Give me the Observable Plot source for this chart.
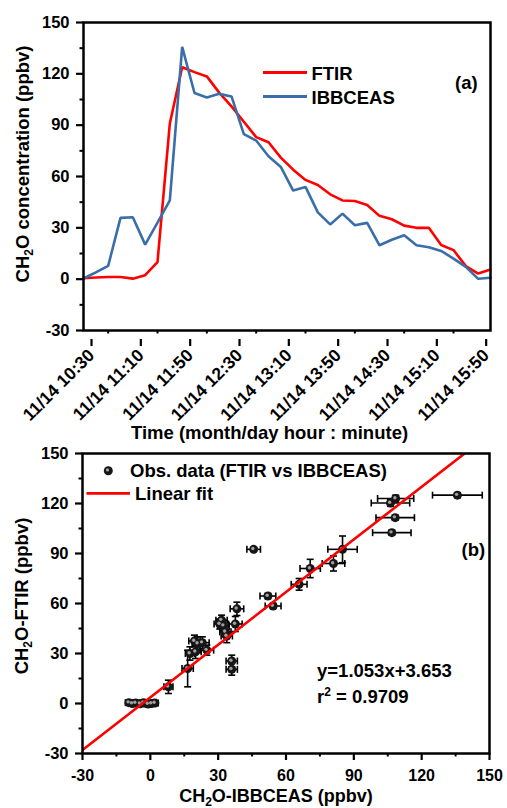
<!DOCTYPE html>
<html><head><meta charset="utf-8">
<script src="https://cdn.jsdelivr.net/npm/d3@7"></script>
<script src="https://cdn.jsdelivr.net/npm/@observablehq/plot@0.6"></script>
<style>
html,body{margin:0;padding:0;background:#fff;}
svg{display:block;}
</style></head><body>
<div id="chart"></div>
<script>
// ---------- Panel (a) data ----------
const dateLabel = "11/14";
const times = ["10:30","10:40","10:50","11:00","11:10","11:20","11:30","11:40","11:50","12:00",
  "12:10","12:20","12:30","12:40","12:50","13:00","13:10","13:20","13:30","13:40",
  "13:50","14:00","14:10","14:20","14:30","14:40","14:50","15:00","15:10","15:20",
  "15:30","15:40","15:50","16:00"];
const ftir = [0.5,1,1.3,1.3,0.3,2.3,10,91,123.8,121,118.5,109,101,92,83,80,71,64,58,55,
  49.6,46,45.7,43.4,37,35,31.3,30,30,20,17,7.6,3.3,5.6];
const ibbceas = [0.4,4,7.8,35.8,36.2,20.2,33,46,135.8,108.8,106.2,108.3,106.8,84.8,81,71.8,65.6,51.8,53.9,39,
  32,38.3,31.5,32.9,19.8,23,25.7,19.8,18.7,16.5,12,7.2,0.2,0.8];
const seriesNames = ["FTIR", "IBBCEAS"];
const seriesColors = ["#ff0000", "#3a6ea8"];
const xTickTimes = ["10:30","11:10","11:50","12:30","13:10","13:50","14:30","15:10","15:50"];
const xMinorTimes = ["10:50","11:30","12:10","12:50","13:30","14:10","14:50","15:30"];
const xDomainTimes = ["10:30","16:00"];
const valueTicks = [-30,0,30,60,90,120,150];
const valueMinor = [-15,15,45,75,105,135];
const valueDomain = [-30,150];

// ---------- Panel (b) data ----------
const obsX    = [-9.5,-8,-6.5,-4.5,-3,-1,0.5,2, 8,16.5,17.5,19.5,20,21,23,25,
  30.7,31.5,32.4,33.2,33.8,36,36,37.6,38.3,45.7,52,54.3,65.8,70.7,81,85,106.8,108.3,106.2,108.5,135.8];
const obsY    = [0.5,0,0.3,-0.2,0.5,-0.3,0,0.3, 10,21,30,37.5,31,36,36.5,32,
  47.7,50,46.7,43,40.5,25.5,20.5,47.7,56.8,92.5,64.5,58.5,71.5,81,84,92.5,102.5,111.5,120.3,123,125];
const obsXErr = [1.5,1.5,1.5,1.5,1.5,1.5,1.5,1.5, 2,2.5,2,2.5,2.5,2.5,3,3,
  2.5,2.5,2.5,2.5,2.5,2.5,2.5,3,3,3,3.5,3.5,3.5,4.5,5,6.5,8.5,8.5,8.5,8,11];
const obsYErr = [1,1,1,1,1,1,1,1, 4,11,4,3.5,4,4,3.5,3,
  3,3,3,3,4,3.5,3.5,4.5,4,1,1.5,1.5,3.5,5.5,4.5,8,1.5,1.5,2,2,1.5];
const fitSlope = 1.053, fitIntercept = 3.653, fitR2 = "0.9709";
const fitXRange = [-30, 150];
const fitColor = "#ff0000";

const toDate = t => new Date(`2000-11-14T${t}:00Z`);
const FONT = "'Liberation Sans', Arial, Helvetica, sans-serif";
const baseStyle = {fontFamily: FONT, fontWeight: "bold", fontSize: "16px", color: "black", background: "white", overflow: "visible"};
const numFmt = d => String(d);

// ---------- Panel (a) ----------
const rowsA = seriesNames.map((name, k) => times.map((t, i) => ({time: toDate(t), value: (k === 0 ? ftir : ibbceas)[i], series: name}))).flat();

const chartA = Plot.plot({
  width: 507, height: 445,
  marginLeft: 83, marginRight: 17, marginTop: 22, marginBottom: 115,
  style: baseStyle,
  x: {type: "utc", domain: xDomainTimes.map(toDate)},
  y: {domain: valueDomain},
  color: {domain: seriesNames, range: seriesColors},
  marks: [
    Plot.line(rowsA, {x: "time", y: "value", stroke: "series", z: "series", strokeWidth: 2.6, strokeLinejoin: "miter"}),
    Plot.axisY({ticks: valueTicks, tickFormat: numFmt, tickSize: 7, tickPadding: 7, label: null, strokeWidth: 2.2, fontSize: 16.5}),
    Plot.axisY({ticks: valueMinor, tickSize: 3.5, tickFormat: () => "", label: null, strokeWidth: 2}),
    Plot.axisX({ticks: xTickTimes.map(toDate), tickFormat: d => `${dateLabel} ${d3.utcFormat("%H:%M")(d)}`,
      tickRotate: -45, tickSize: 7, tickPadding: 6, dx: 8, dy: 9, label: null, strokeWidth: 2.2, fontSize: 17.5}),
    Plot.axisX({ticks: xMinorTimes.map(toDate), tickSize: 3.5, tickFormat: () => "", label: null, strokeWidth: 2}),
    Plot.frame({stroke: "black", strokeWidth: 2.5})
  ]
});

// ---------- Panel (b) ----------
const rowsB = obsX.map((x, i) => ({x, y: obsY[i], xe: obsXErr[i], ye: obsYErr[i]}));
const fitRows = fitXRange.map(x => ({x, y: fitSlope * x + fitIntercept}));
const vbar = {draw(ctx, size) { const r = Math.sqrt(size / Math.PI); ctx.moveTo(0, -r); ctx.lineTo(0, r); }};
const hbar = {draw(ctx, size) { const r = Math.sqrt(size / Math.PI); ctx.moveTo(-r, 0); ctx.lineTo(r, 0); }};
const errStyle = {stroke: "black", strokeWidth: 1.6};

const chartB = Plot.plot({
  width: 507, height: 363,
  marginLeft: 82, marginRight: 18, marginTop: 8, marginBottom: 55,
  style: baseStyle,
  x: {domain: valueDomain},
  y: {domain: valueDomain},
  marks: [
    Plot.link(rowsB, {x1: d => d.x - d.xe, x2: d => d.x + d.xe, y1: "y", y2: "y", ...errStyle}),
    Plot.link(rowsB, {x1: "x", x2: "x", y1: d => d.y - d.ye, y2: d => d.y + d.ye, ...errStyle}),
    Plot.dot(rowsB, {x: d => d.x - d.xe, y: "y", symbol: vbar, r: 3.5, fill: "none", ...errStyle}),
    Plot.dot(rowsB, {x: d => d.x + d.xe, y: "y", symbol: vbar, r: 3.5, fill: "none", ...errStyle}),
    Plot.dot(rowsB, {x: "x", y: d => d.y - d.ye, symbol: hbar, r: 3.5, fill: "none", ...errStyle}),
    Plot.dot(rowsB, {x: "x", y: d => d.y + d.ye, symbol: hbar, r: 3.5, fill: "none", ...errStyle}),
    Plot.dot(rowsB, {x: "x", y: "y", r: 4.5, fill: "#161616", stroke: "none"}),
    Plot.dot(rowsB, {x: "x", y: "y", r: 1.7, fill: "#a0a0a0", stroke: "none", dx: -0.8, dy: -0.8}),
    Plot.line(fitRows, {x: "x", y: "y", stroke: fitColor, strokeWidth: 2.6, clip: true}),
    Plot.axisY({ticks: valueTicks, tickFormat: numFmt, tickSize: 7, tickPadding: 7, label: null, strokeWidth: 2.2, fontSize: 16.5}),
    Plot.axisY({ticks: valueMinor, tickSize: 3.5, tickFormat: () => "", label: null, strokeWidth: 2}),
    Plot.axisX({ticks: valueTicks, tickFormat: numFmt, tickSize: 7, tickPadding: 9, label: null, strokeWidth: 2.2, fontSize: 16}),
    Plot.axisX({ticks: valueMinor, tickSize: 3.5, tickFormat: () => "", label: null, strokeWidth: 2}),
    Plot.frame({stroke: "black", strokeWidth: 2.5})
  ]
});

// ---------- text helpers ----------
function addText(svg, {x, y, anchor = "start", rotate = 0, size = 18.5}, parts) {
  const t = d3.select(svg).append("text")
    .attr("transform", `translate(${x},${y}) rotate(${rotate})`)
    .attr("text-anchor", anchor)
    .attr("font-family", FONT).attr("font-weight", "bold")
    .attr("font-size", size).attr("fill", "black");
  let shift = 0;
  for (const p of parts) {
    const target = p.sub ? 4 : p.sup ? -7 : 0;
    const sp = t.append("tspan").text(p.t).attr("dy", target - shift);
    if (p.sub || p.sup) sp.attr("font-size", 12);
    shift = target;
  }
  return t;
}

// Panel (a) titles + legend
addText(chartA, {x: 28.5, y: 164, anchor: "middle", rotate: -90}, [{t: "CH"}, {t: "2", sub: true}, {t: "O concentration (ppbv)"}]);
addText(chartA, {x: 269.5, y: 439, anchor: "middle"}, [{t: "Time (month/day hour : minute)"}]);
const legA = d3.select(chartA).append("g");
seriesNames.forEach((name, k) => {
  const yy = [72.5, 96.5][k];
  legA.append("line").attr("x1", 263).attr("x2", 307).attr("y1", yy).attr("y2", yy)
    .attr("stroke", seriesColors[k]).attr("stroke-width", 2.8);
  addText(chartA, {x: 311.5, y: yy + 7}, [{t: name}]);
});
addText(chartA, {x: 455, y: 89}, [{t: "(a)"}]);

// Panel (b) titles + legend + annotation
addText(chartB, {x: 27.5, y: 151, anchor: "middle", rotate: -90}, [{t: "CH"}, {t: "2", sub: true}, {t: "O-FTIR (ppbv)"}]);
addText(chartB, {x: 276, y: 356.5, anchor: "middle", size: 18}, [{t: "CH"}, {t: "2", sub: true}, {t: "O-IBBCEAS (ppbv)"}]);
const legB = d3.select(chartB).append("g");
legB.append("circle").attr("cx", 108.3).attr("cy", 25.7).attr("r", 4.5).attr("fill", "#161616");
legB.append("circle").attr("cx", 107.5).attr("cy", 24.9).attr("r", 1.7).attr("fill", "#a0a0a0");
addText(chartB, {x: 130, y: 31.7}, [{t: "Obs. data (FTIR vs IBBCEAS)"}]);
legB.append("line").attr("x1", 86.5).attr("x2", 130).attr("y1", 48.3).attr("y2", 48.3)
  .attr("stroke", fitColor).attr("stroke-width", 2.8);
addText(chartB, {x: 135, y: 55}, [{t: "Linear fit"}]);
addText(chartB, {x: 317, y: 232}, [{t: `y=${fitSlope}x+${fitIntercept}`}]);
addText(chartB, {x: 317, y: 258}, [{t: "r"}, {t: "2", sup: true}, {t: ` = ${fitR2}`}]);
addText(chartB, {x: 461.5, y: 111}, [{t: "(b)"}]);

const root = document.getElementById("chart");
root.appendChild(chartA);
root.appendChild(chartB);
</script></body></html>
